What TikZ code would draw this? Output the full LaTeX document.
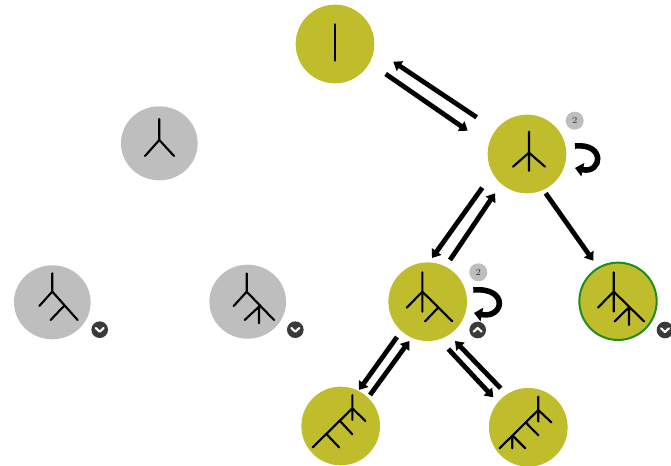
\documentclass[tikz,border=0pt]{standalone}
\usetikzlibrary{arrows.meta,shapes.geometric}
\definecolor{olive}{HTML}{BFBD2B}
\definecolor{greyfill}{HTML}{BEBEBE}
\definecolor{ringgreen}{HTML}{1E8C1E}
\definecolor{darkbadge}{HTML}{3A3A3A}
\tikzset{
  x=0.75pt,y=-0.75pt,
  olivenode/.style={circle,fill=olive,minimum size=59pt,inner sep=0pt},
  greynode/.style={ellipse,fill=greyfill,minimum width=57.5pt,minimum height=55.5pt,inner sep=0pt},
  ringnode/.style={circle,fill=olive,draw=ringgreen,line width=1.5pt,minimum size=58pt,inner sep=0pt},
  twig/.style={line width=1.6pt,line cap=round,line join=round,black},
  conn/.style={line width=3.6pt,black,-{Triangle[length=6pt,width=8.5pt]}},
  selfloop/.style={line width=4.2pt,black,-{Triangle[length=6pt,width=10pt]}},
  countbadge/.style={circle,fill=greyfill,minimum size=13.5pt,inner sep=0pt,font=\fontsize{7}{8}\selectfont,text=black!80},
  togglebadge/.style={circle,fill=darkbadge,minimum size=12.5pt,inner sep=0pt},
  chev/.style={line width=1.6pt,white,line cap=round,line join=round}
}
\begin{document}
\begin{tikzpicture}
\useasboundingbox (0,0) rectangle (671,466);
% nodes
\node[olivenode] (top) at (335,44) {};
\node[olivenode] (second) at (527,154) {};
\node[olivenode] (mid) at (427.7,301.7) {};
\node[ringnode] (ring) at (618,301.3) {};
\node[olivenode] (bl) at (340.7,426) {};
\node[olivenode] (br) at (528.3,427.3) {};
\node[greynode] (g1) at (159.3,143.3) {};
\node[greynode] (g2) at (52.3,302.3) {};
\node[greynode] (g3) at (247.7,301.7) {};
\node[countbadge] (c1) at (574.7,120.7) {2};
\node[countbadge] (c2) at (478.3,272.3) {2};
\node[togglebadge] (t1) at (477.7,330) {};
\node[togglebadge] (t2) at (665,330) {};
\node[togglebadge] (t3) at (99.7,329.7) {};
\node[togglebadge] (t4) at (295.3,329.7) {};
% chevrons
\draw[chev,shift={(t1.center)}] (-4,1.7) -- (0,-2) -- (4,1.7);
\draw[chev,shift={(t2.center)}] (-4,-1.7) -- (0,2) -- (4,-1.7);
\draw[chev,shift={(t3.center)}] (-4,-1.7) -- (0,2) -- (4,-1.7);
\draw[chev,shift={(t4.center)}] (-4,-1.7) -- (0,2) -- (4,-1.7);
% trees
\draw[twig,shift={(top.center)}] (0,-19.7) -- (0,16.7);
\draw[twig,shift={(second.center)}] (2,-22.3) -- (2,16.7) (-14,12.7) -- (2,-1.3) -- (18,12.7);
\draw[twig,shift={(mid.center)}] (-5.3,-29.3) -- (-5.3,10) (-21,6) -- (-5.3,-10) -- (24.7,19.7) (10.7,5.7) -- (-2.7,19.7);
\draw[twig,shift={(ring.center)}] (-4.3,-29) -- (-4.3,10.3) (-20,6.3) -- (-4.3,-9.7) -- (26,20) (11,6) -- (-3.3,20) (11,6) -- (11,23.7);
\draw[twig,shift={(g1.center)}] (0,-24.3) -- (0,-3.3) (-14.3,12.7) -- (0,-3.3) -- (14.7,12.7);
\draw[twig,shift={(g2.center)}] (0,-29) -- (0,-10.7) (-13,3.7) -- (0,-10.7) -- (25.3,17.7) (11.7,3.7) -- (-1.7,17.7);
\draw[twig,shift={(g3.center)}] (-1,-28.3) -- (-1,-10) (-14,4.3) -- (-1,-10) -- (26.3,18.3) (11.3,5) -- (-3,18.3) (11.3,5) -- (11.3,21.7);
\draw[twig,shift={(bl.center)}] (11.7,-31) -- (11.7,-6) (24.7,-5) -- (11.7,-17.7) -- (-28,21.3) (-0.7,-5) -- (11.7,8.3) (-14,8.3) -- (-1.7,21.3);
\draw[twig,shift={(br.center)}] (10,-30.7) -- (10,-5.7) (23,-5) -- (10,-17.3) -- (-28.7,21) (-2.7,-5) -- (10,8) (-16,8) -- (-3,21) (-16,8) -- (-16,21);
% connectors
\draw[conn] ([shift={(50.7,30)}]top.center) -- ([shift={(-59.3,-23.3)}]second.center);
\draw[conn] ([shift={(-50.3,-36.7)}]second.center) -- ([shift={(58.3,17.7)}]top.center);
\draw[conn] ([shift={(-44.7,33.7)}]second.center) -- ([shift={(4.3,-43.7)}]mid.center);
\draw[conn] ([shift={(22.3,-41.7)}]mid.center) -- ([shift={(-32,39.3)}]second.center);
\draw[conn] ([shift={(18.7,39.3)}]second.center) -- ([shift={(-24.7,-40.6)}]ring.center);
\draw[conn] ([shift={(-30.7,35.3)}]mid.center) -- ([shift={(18.3,-36)}]bl.center);
\draw[conn] ([shift={(29.3,-31)}]bl.center) -- ([shift={(-18.4,39.3)}]mid.center);
\draw[conn] ([shift={(20.6,47.3)}]mid.center) -- ([shift={(-35,-30)}]br.center);
\draw[conn] ([shift={(-27.6,-39)}]br.center) -- ([shift={(27.3,39.3)}]mid.center);
% self loops
\draw[selfloop] ([shift={(48,-8)}]second.center) .. controls +(31,-3) and +(27,6) .. ([shift={(48,14)}]second.center);
\draw[selfloop] ([shift={(45.6,-11.7)}]mid.center) .. controls +(36,-3) and +(30,6) .. ([shift={(46.3,11.3)}]mid.center);
\end{tikzpicture}
\end{document}
